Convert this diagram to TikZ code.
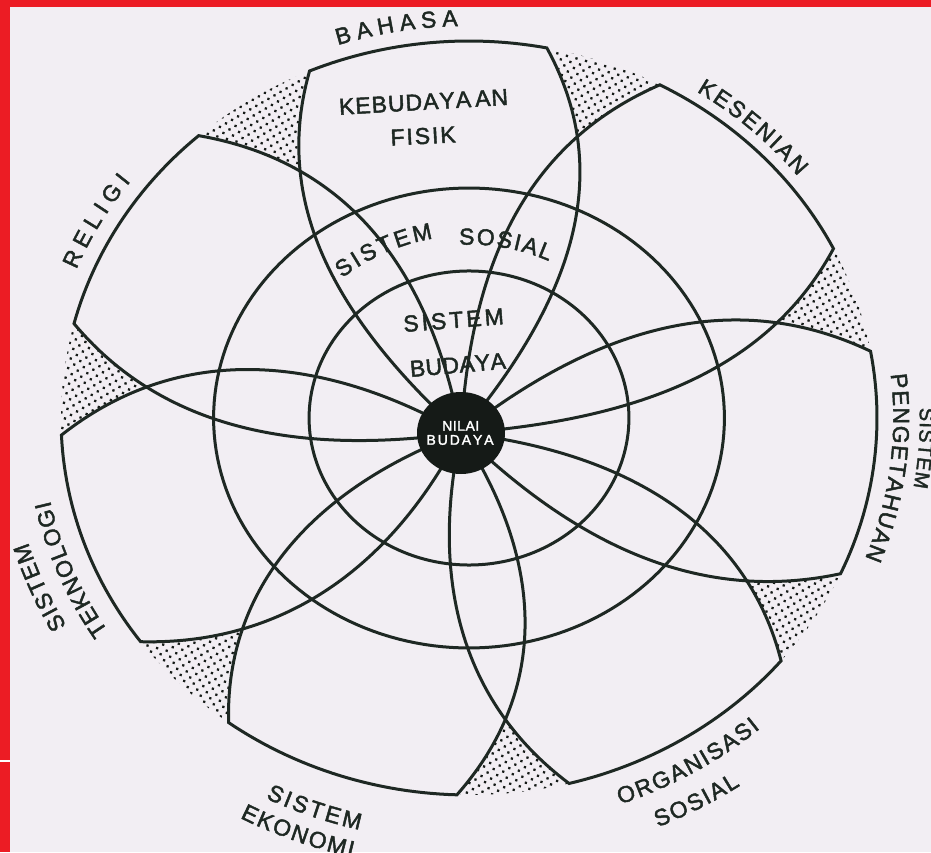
\documentclass[tikz,border=0pt]{standalone}
\usepackage{fontspec}
\setmainfont{Liberation Sans}
\usetikzlibrary{decorations.text,patterns.meta}
\definecolor{bg}{HTML}{F2EEF3}
\definecolor{ink}{HTML}{1E2823}
\definecolor{dotc}{HTML}{151A17}
\definecolor{redb}{HTML}{EC1C24}
\newfontfamily\lblfam[FakeBold=2]{Liberation Sans}
\newcommand\lblsz[1]{\lblfam\fontsize{#1}{#1}\selectfont}
\def\trk#1#2{\def\trkamt{#1}\trkA#2\relax}
\def\trkA#1{\ifx#1\relax\else#1\kern\trkamt\expandafter\trkA\fi}
\newcommand\petalpath[2]{(D) .. controls ({(#1+#2)/2-45}:0.424) and ({(#1+#2)/2-34.1}:0.749) .. (#1:1) -- plot[domain=#1:#2,samples=30,variable=\ang] (\ang:1) .. controls ({(#1+#2)/2+34.1}:0.749) and ({(#1+#2)/2+45}:0.424) .. (D)}
\newcommand\arclabel[5]{\path[decorate,decoration={text along path,text={|\lblsz{#4}|#5},text align={fit to path},text color=ink}] plot[domain=#1:#2,samples=60,variable=\ang] (\ang:#3);}
\tikzset{
  petalline/.style={ink,line width=3pt},
  flatlbl/.style={font=\lblsz{23},text=ink,inner sep=0pt}
}
\begin{document}
\begin{tikzpicture}[x=1pt,y=1pt]
\useasboundingbox (0,0) rectangle (931,852);
\fill[bg] (0,0) rectangle (931,852);
\fill[redb] (0,845) rectangle (931,852);
\fill[redb] (0,0) rectangle (9.5,852);
\draw[white,line width=1.2pt] (0,91) -- (9.5,91);
\begin{scope}[shift={(469,434)},x=408pt,y=377pt]
  \coordinate (D) at (-0.0196,-0.0398);
  \fill[pattern={Dots[distance=7pt,radius=1.6pt,angle=30]},pattern color=dotc] plot[domain=0:360,samples=180,variable=\ang] (\ang:1) -- cycle;
  \foreach \a/\b in {79/113,26.7/62.1,-24.4/10.2,-75.8/-40.1,-126.1/-91.7,182.6/216.4,131.5/165.5}
    \fill[bg] \petalpath{\a}{\b} -- cycle;
  \draw[petalline] plot[domain=0:360,samples=181,variable=\ang] (\ang:0.626 and 0.61) -- cycle;
  \draw[petalline] plot[domain=0:360,samples=181,variable=\ang] (\ang:0.392 and 0.39) -- cycle;
  \foreach \a/\b in {79/113,26.7/62.1,-24.4/10.2,-75.8/-40.1,-126.1/-91.7,182.6/216.4,131.5/165.5}
    \draw[petalline] \petalpath{\a}{\b} -- cycle;
  \fill[dotc] (D) ellipse[x radius=44pt,y radius=41pt];
  \node[text=white,align=center,font=\lblsz{14}] (nilai) at (D) {\trk{0.5pt}{NILAI}\\\trk{1.9pt}{BUDAYA}};
  \arclabel{108}{91.5}{1.04}{23}{BAHASA}
  \arclabel{57.2}{38.5}{1.03}{23}{KESENIAN}
  \arclabel{157.75}{142.85}{1.04}{23}{RELIGI}
  \arclabel{6.4}{-21}{1.04}{23}{PENGETAHUAN}
  \arclabel{1.4}{-9.6}{1.105}{20}{SISTEM}
  \arclabel{212.6}{192.04}{1.05}{23}{TEKNOLOGI}
  \arclabel{209.2}{196.95}{1.13}{23}{SISTEM}
  \arclabel{-70.1}{-49.07}{1.09}{23}{ORGANISASI}
  \arclabel{-66.9}{-55.7}{1.18}{23}{SOSIAL}
  \arclabel{-116.3}{-103.8}{1.125}{23}{SISTEM}
  \arclabel{-117.9}{-103.8}{1.20}{23}{EKONOMI}
  \arclabel{130}{100.5}{0.484}{23}{SISTEM}
  \arclabel{93}{64.8}{0.46}{23}{SOSIAL}
\end{scope}
\node[flatlbl,rotate=3.4] (kebud) at (424,750) {\trk{1pt}{KEBUDAYA}\kern3pt\trk{1pt}{AN}};
\node[flatlbl,rotate=3] (fisik) at (424,716) {\trk{1.9pt}{FISIK}};
\node[flatlbl,rotate=4.5] (sbud) at (455,532) {\trk{3pt}{SISTEM}};
\node[flatlbl,rotate=5] (budaya) at (458,487) {\trk{0.3pt}{BUDAYA}};
\end{tikzpicture}
\end{document}
